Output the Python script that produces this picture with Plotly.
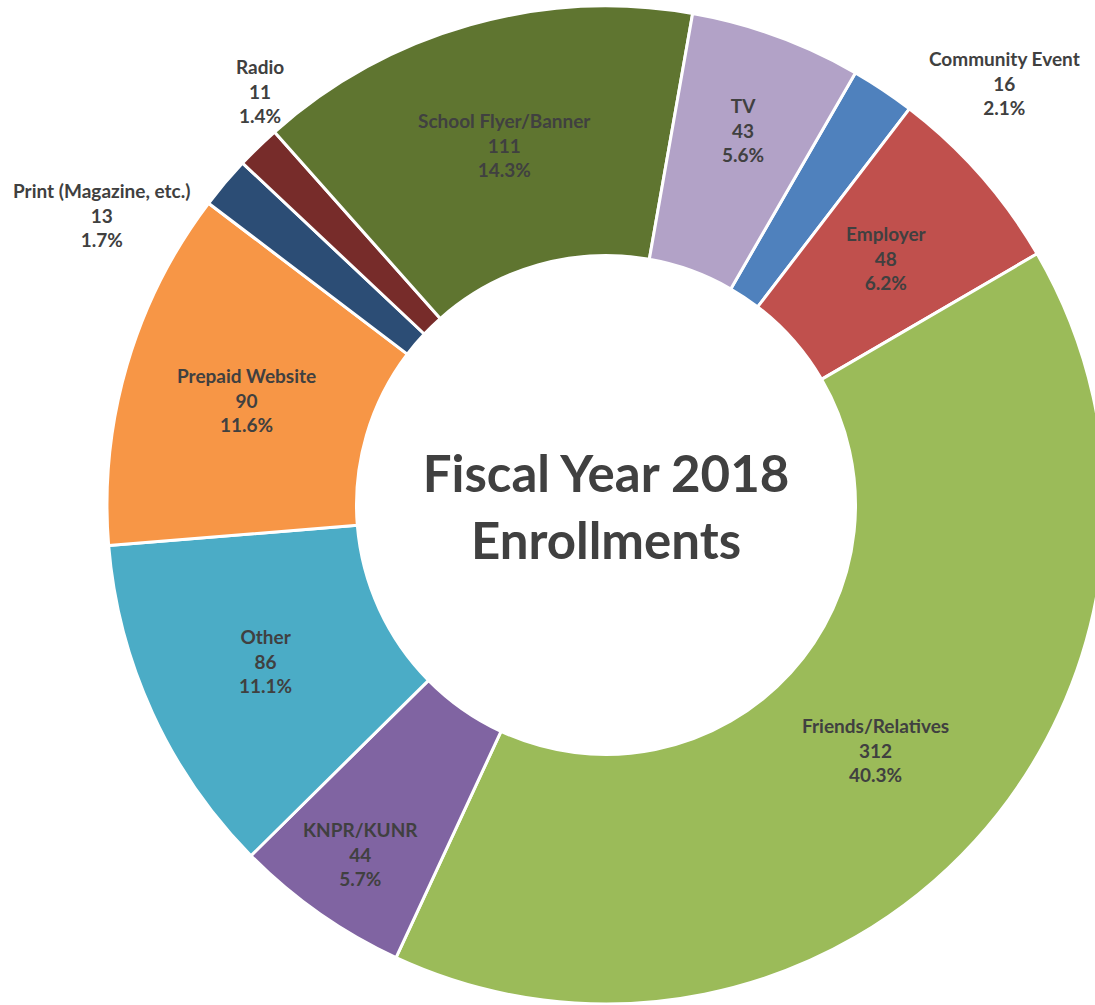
import math
import plotly.graph_objects as go

categories = ["Community Event", "Employer", "Friends/Relatives", "KNPR/KUNR", "Other",
              "Prepaid Website", "Print (Magazine, etc.)", "Radio", "School Flyer/Banner", "TV"]
enrollments = [16, 48, 312, 44, 86, 90, 13, 11, 111, 43]
colors = ["#4F81BD", "#C0504D", "#9BBB59", "#8064A2", "#4BACC6",
          "#F79646", "#2C4D75", "#772C2A", "#5F7530", "#B2A2C7"]
title_text = "Fiscal Year 2018<br>Enrollments"

# label placement: pixel offsets from the slice's outer edge for labels drawn outside,
# and radial position (fraction of outer radius) for inside labels that are not mid-ring
outside_offsets = {"Community Event": (121, -7), "Print (Magazine, etc.)": (-124, 32),
                   "Radio": (2, -56)}
inside_radius = {"TV": 0.80, "KNPR/KUNR": 0.855, "Friends/Relatives": 0.73}

W, H = 1110, 1005
FONT = "Lato"
TXT = "#404040"
ROTATION = 30
HOLE = 0.5
CX, CY, R = 606, 505, 499   # pie centre / radius in pixels

fig = go.Figure(go.Pie(
    labels=categories,
    values=enrollments,
    sort=False,
    direction="clockwise",
    rotation=ROTATION,
    hole=HOLE,
    marker=dict(colors=colors, line=dict(color="white", width=3)),
    textinfo="none",
    title=dict(text=title_text, position="middle center",
               font=dict(family=FONT, size=51, color=TXT, weight="bold")),
    domain=dict(x=[(CX - R) / W, (CX + R) / W], y=[(H - CY - R) / H, (H - CY + R) / H]),
    hoverinfo="label+value+percent",
))

total = sum(enrollments)
angle = ROTATION
annotations = []
for lab, val in zip(categories, enrollments):
    span = val / total * 360
    mid = math.radians(angle + span / 2)
    angle += span
    txt = f"{lab}<br>{val}<br>{val / total * 100:.1f}%"
    if lab in outside_offsets:
        dx, dy = outside_offsets[lab]
        px = CX + R * math.sin(mid) + dx
        py = CY - R * math.cos(mid) + dy
    else:
        rm = R * inside_radius.get(lab, (1 + HOLE) / 2)
        px = CX + rm * math.sin(mid)
        py = CY - rm * math.cos(mid)
    annotations.append(dict(x=px / W, y=1 - py / H, xref="paper", yref="paper",
                            text=txt, showarrow=False, xanchor="center", yanchor="middle",
                            font=dict(family=FONT, size=19, color=TXT, weight="bold")))

fig.update_layout(
    width=W, height=H,
    margin=dict(l=0, r=0, t=0, b=0),
    showlegend=False,
    paper_bgcolor="white",
    plot_bgcolor="white",
    annotations=annotations,
)

fig.write_html("out.html", config={"displayModeBar": False},
               post_script="document.body.style.margin='0';document.body.style.overflow='hidden';")
